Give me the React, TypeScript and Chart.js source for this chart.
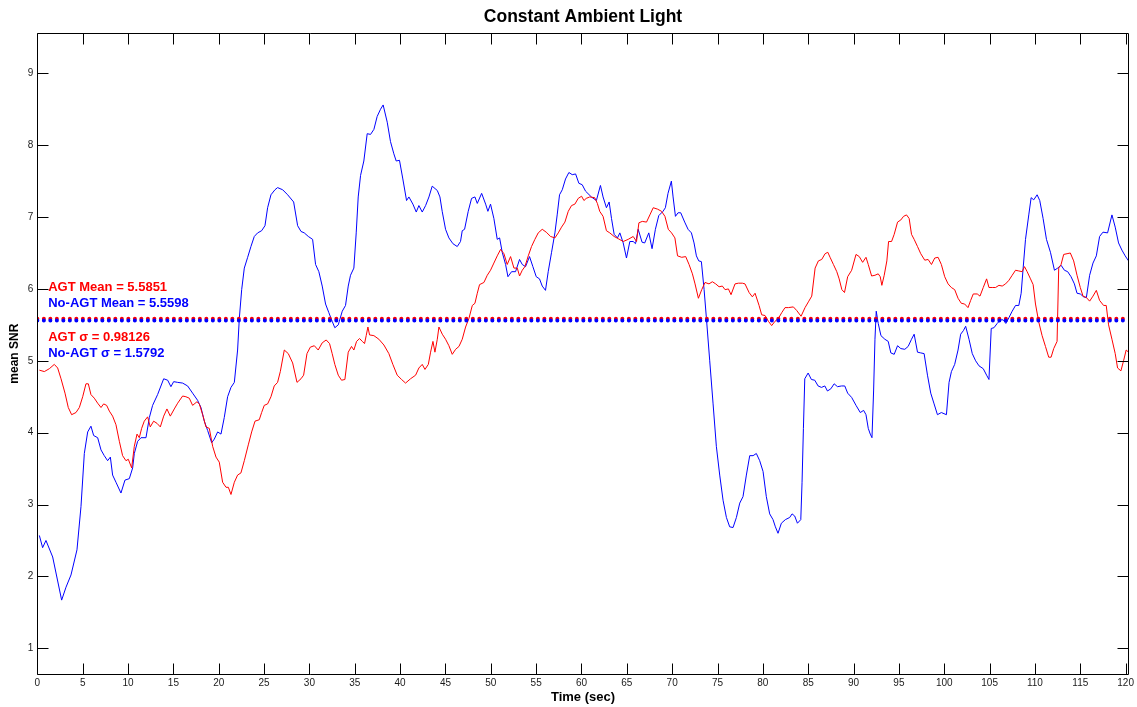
import { useEffect, useRef } from "react";
import { Chart, registerables } from "chart.js";

Chart.register(...registerables);

// No-AGT mean SNR trace (time in seconds, value)
const noAgtTime = [
  0.22, 0.58, 0.95, 1.69, 2.68, 3.16, 3.71, 4.37, 4.81, 5.18, 5.55, 5.91, 6.21, 6.65, 7.02, 7.38, 7.75, 8.05, 8.3, 8.67,
  9.22, 9.66, 10.14, 10.51, 10.69, 11.06, 11.43, 11.98, 12.35, 12.71, 13.26, 13.93, 14.37, 14.73, 15.03, 15.47, 16.02,
  16.57, 17.12, 17.67, 18.04, 18.41, 18.78, 19.22, 19.51, 19.88, 20.25, 20.61, 20.98, 21.35, 21.72, 22.08, 22.27, 22.53,
  22.82, 23.19, 23.55, 23.92, 24.29, 24.73, 25.1, 25.39, 25.76, 26.2, 26.49, 27.05, 27.6, 28.26, 28.7, 29.07, 29.43,
  29.88, 30.35, 30.68, 31.04, 31.41, 31.78, 32.14, 32.51, 32.8, 33.18, 33.62, 33.98, 34.28, 34.53, 34.9, 35.16, 35.38,
  35.64, 36.0, 36.37, 36.74, 37.11, 37.47, 37.84, 38.13, 38.58, 38.94, 39.31, 39.57, 39.93, 40.3, 40.71, 40.97, 41.41,
  41.78, 42.07, 42.44, 42.81, 43.18, 43.54, 44.1, 44.39, 44.64, 45.01, 45.38, 45.82, 46.3, 46.66, 46.85, 47.11, 47.51,
  47.88, 48.25, 48.51, 48.99, 49.43, 49.68, 49.97, 50.34, 50.71, 50.97, 51.26, 51.63, 51.89, 52.29, 52.73, 53.17, 53.47,
  53.83, 54.27, 54.64, 55.01, 55.37, 55.67, 56.03, 56.33, 56.7, 57.07, 57.32, 57.58, 57.88, 58.24, 58.61, 58.98, 59.35,
  59.71, 60.08, 60.45, 61.09, 61.64, 62.09, 62.38, 62.75, 63.05, 63.31, 63.6, 63.97, 64.23, 64.6, 64.96, 65.33, 65.7,
  65.96, 66.25, 66.68, 66.97, 67.42, 67.78, 68.15, 68.52, 68.99, 69.25, 69.54, 69.91, 70.1, 70.36, 70.65, 70.94, 71.38,
  71.75, 72.12, 72.41, 72.67, 72.93, 73.22, 73.52, 73.77, 74.14, 74.51, 74.87, 75.24, 75.61, 75.98, 76.34, 76.71, 77.08,
  77.45, 77.81, 78.18, 78.55, 78.92, 79.28, 79.65, 80.02, 80.38, 80.75, 81.12, 81.38, 81.67, 82.04, 82.48, 82.96, 83.22,
  83.51, 83.81, 84.18, 84.32, 84.47, 84.62, 84.99, 85.35, 85.72, 86.09, 86.46, 86.83, 87.12, 87.49, 87.86, 88.23, 88.67,
  89.03, 89.35, 89.79, 90.27, 90.74, 91.11, 91.37, 91.62, 91.84, 92.03, 92.21, 92.36, 92.5, 92.72, 93.02, 93.45, 93.82,
  94.11, 94.48, 94.85, 95.21, 95.65, 96.02, 96.39, 96.68, 97.05, 97.41, 97.78, 98.15, 98.51, 98.88, 99.25, 99.68, 100.24,
  100.53, 100.79, 101.15, 101.52, 101.81, 102.11, 102.36, 102.73, 103.09, 103.46, 103.83, 104.3, 104.67, 104.93, 105.18,
  105.48, 105.84, 106.21, 106.5, 106.79, 107.13, 107.49, 107.86, 108.22, 108.48, 108.7, 108.96, 109.32, 109.58, 109.87,
  110.24, 110.53, 110.9, 111.27, 111.71, 112.15, 112.51, 112.88, 113.25, 113.61, 113.98, 114.35, 114.64, 115.0, 115.37,
  115.67, 116.03, 116.4, 116.77, 117.13, 117.5, 118.01, 118.49, 118.85, 119.22, 119.59, 119.95, 120.32,
];
const noAgtSNR = [
  2.57, 2.4, 2.5, 2.27, 1.67, 1.85, 2.02, 2.37, 2.97, 3.71, 4.01, 4.09, 3.96, 3.93, 3.76, 3.68, 3.61, 3.66, 3.41, 3.31,
  3.16, 3.34, 3.36, 3.51, 3.71, 3.88, 3.93, 3.93, 4.21, 4.38, 4.53, 4.75, 4.73, 4.64, 4.71, 4.7, 4.69,
  4.65, 4.55, 4.45, 4.35, 4.16, 4.03, 3.86, 3.91, 4.01, 3.98, 4.21, 4.5, 4.63, 4.7, 5.15, 5.59, 5.99,
  6.29, 6.44, 6.59, 6.73, 6.78, 6.81, 6.88, 7.13, 7.31, 7.38, 7.41, 7.38, 7.31, 7.21, 6.88, 6.8, 6.78,
  6.73, 6.69, 6.34, 6.24, 6.04, 5.79, 5.67, 5.55, 5.46, 5.5, 5.69, 5.77, 6.04, 6.19, 6.29, 6.78, 7.28,
  7.58, 7.78, 8.16, 8.15, 8.22, 8.4, 8.5, 8.56, 8.32, 8.05, 7.88, 7.78, 7.79, 7.53, 7.23, 7.28, 7.18,
  7.07, 7.16, 7.07, 7.16, 7.28, 7.43, 7.37, 7.28, 7.08, 6.83, 6.71, 6.63, 6.59, 6.66, 6.81, 6.83, 7.08,
  7.26, 7.28, 7.19, 7.33, 7.18, 7.08, 7.18, 6.98, 6.69, 6.71, 6.51, 6.34, 6.17, 6.24, 6.24, 6.41, 6.34,
  6.31, 6.45, 6.31, 6.17, 6.14, 6.04, 5.98, 6.24, 6.51, 6.78, 7.03, 7.31, 7.38, 7.53, 7.62, 7.59, 7.6,
  7.47, 7.45, 7.36, 7.28, 7.23, 7.44, 7.28, 7.13, 7.21, 6.98, 6.76, 6.71, 6.78, 6.64, 6.43, 6.66, 6.66,
  6.63, 6.83, 6.65, 6.64, 6.78, 6.56, 6.83, 7.02, 7.08, 7.13, 7.33, 7.5, 7.28, 7.01, 7.06, 7.06, 6.93,
  6.83, 6.78, 6.64, 6.46, 6.39, 6.38, 5.99, 5.6, 5.0, 4.4, 3.81, 3.41, 3.06, 2.82, 2.69, 2.68, 2.82,
  3.02, 3.11, 3.41, 3.68, 3.68, 3.71, 3.61, 3.46, 3.11, 2.87, 2.79, 2.69, 2.6, 2.74, 2.79, 2.82, 2.87,
  2.84, 2.74, 2.79, 3.31, 4.06, 4.75, 4.83, 4.74, 4.73, 4.65, 4.63, 4.65, 4.58, 4.61, 4.68, 4.64, 4.65,
  4.65, 4.55, 4.49, 4.38, 4.28, 4.31, 4.25, 4.06, 3.98, 3.93, 4.58, 5.3, 5.69, 5.52, 5.35, 5.3, 5.27,
  5.11, 5.09, 5.21, 5.17, 5.16, 5.2, 5.3, 5.37, 5.12, 5.11, 5.1, 4.8, 4.55, 4.4, 4.25, 4.28, 4.25,
  4.7, 4.85, 4.95, 5.15, 5.37, 5.42, 5.48, 5.3, 5.1, 5.0, 4.93, 4.89, 4.8, 4.74, 5.45,
  5.46, 5.52, 5.57, 5.57, 5.52, 5.6, 5.69, 5.77, 5.77, 5.94, 6.29, 6.69, 7.03, 7.27, 7.24,
  7.31, 7.23, 6.98, 6.69, 6.51, 6.26, 6.29, 6.33, 6.26, 6.24, 6.17, 6.07, 5.94, 5.93, 5.89,
  5.88, 6.19, 6.36, 6.46, 6.73, 6.79, 6.78, 7.03, 6.86, 6.64, 6.54, 6.46, 6.39,
];

// AGT mean SNR trace (time in seconds, value)
const agtTime = [
  0.22, 0.77, 1.32, 1.87, 2.24, 2.61, 3.05, 3.41, 3.78, 4.26, 4.63, 5.0, 5.36, 5.62, 5.91, 6.28, 6.65, 7.02, 7.31, 7.64,
  7.94, 8.3, 8.67, 9.04, 9.4, 9.77, 10.03, 10.4, 10.69, 10.99, 11.24, 11.5, 11.79, 12.16, 12.45, 12.82, 13.19, 13.56,
  13.93, 14.29, 14.66, 15.1, 15.47, 16.02, 16.38, 16.75, 17.12, 17.6, 17.86, 18.23, 18.59, 18.96, 19.33, 19.7, 20.06,
  20.43, 20.8, 21.06, 21.35, 21.72, 22.08, 22.45, 22.82, 23.26, 23.63, 24.0, 24.47, 24.73, 25.02, 25.39, 25.76, 26.12,
  26.49, 26.79, 27.23, 27.67, 28.15, 28.63, 29.07, 29.36, 29.73, 30.1, 30.54, 30.97, 31.41, 31.85, 32.22, 32.51, 32.8,
  33.18, 33.54, 33.91, 34.28, 34.64, 34.9, 35.2, 35.53, 35.83, 36.08, 36.26, 36.45, 36.63, 37.11, 37.66, 38.21, 38.76,
  39.2, 39.68, 40.16, 40.6, 41.15, 41.71, 42.07, 42.44, 42.74, 43.11, 43.36, 43.62, 43.84, 44.1, 44.28, 44.65, 45.01,
  45.38, 45.75, 46.12, 46.49, 46.85, 47.22, 47.59, 47.96, 48.25, 48.51, 48.76, 49.24, 49.61, 49.97, 50.34, 50.71, 51.08,
  51.45, 51.81, 52.18, 52.55, 52.92, 53.17, 53.47, 53.76, 54.13, 54.49, 54.86, 55.23, 55.67, 56.11, 56.59, 57.07, 57.44,
  57.8, 58.17, 58.54, 58.9, 59.27, 59.64, 60.01, 60.27, 60.52, 60.91, 61.46, 61.75, 62.01, 62.38, 62.75, 63.12, 63.6,
  64.04, 64.6, 65.15, 65.7, 66.07, 66.33, 66.7, 67.17, 67.54, 67.91, 68.39, 68.83, 69.2, 69.57, 69.93, 70.3, 70.59,
  71.05, 71.49, 71.86, 72.23, 72.52, 72.89, 73.26, 73.62, 74.06, 74.43, 74.8, 75.17, 75.53, 75.83, 76.2, 76.49, 76.93,
  77.3, 77.74, 78.03, 78.48, 78.84, 79.14, 79.58, 79.87, 80.24, 80.61, 80.97, 81.34, 81.71, 82.08, 82.44, 82.81, 83.36,
  83.73, 84.21, 84.65, 85.02, 85.39, 85.76, 86.12, 86.49, 86.86, 87.16, 87.41, 87.78, 88.15, 88.41, 88.71, 89.0, 89.35,
  89.79, 90.27, 90.63, 91.0, 91.37, 91.62, 91.99, 92.36, 92.72, 92.94, 93.12, 93.38, 93.67, 93.86, 94.19, 94.48, 94.85,
  95.21, 95.51, 95.84, 96.13, 96.39, 96.68, 97.05, 97.41, 97.85, 98.22, 98.59, 98.95, 99.32, 99.68, 100.05, 100.42,
  100.78, 101.15, 101.52, 101.88, 102.25, 102.62, 102.91, 103.2, 103.64, 103.94, 104.3, 104.67, 104.93, 105.29, 105.66,
  106.03, 106.39, 106.76, 107.13, 107.49, 107.86, 108.22, 108.59, 108.85, 109.14, 109.51, 109.8, 110.06, 110.42, 110.79,
  111.16, 111.52, 111.78, 112.07, 112.44, 112.62, 112.88, 113.17, 113.54, 113.9, 114.27, 114.64, 115.0, 115.3, 115.67,
  116.03, 116.4, 116.77, 117.13, 117.57, 117.86, 118.12, 118.49, 118.85, 119.11, 119.48, 119.77, 120.06, 120.32,
];
const agtSNR = [
  4.87, 4.85, 4.89, 4.95, 4.9, 4.75, 4.55, 4.35, 4.25, 4.28, 4.35, 4.5, 4.68, 4.68, 4.53, 4.48, 4.41, 4.35, 4.4, 4.38,
  4.3, 4.23, 4.11, 3.88, 3.68, 3.61, 3.63, 3.51, 3.81, 3.98, 3.93, 4.06, 4.16, 4.22, 4.08, 4.16, 4.13, 4.08,
  4.23, 4.33, 4.23, 4.33, 4.41, 4.51, 4.5, 4.48, 4.38, 4.43, 4.4, 4.25, 4.08, 4.06, 3.81, 3.66, 3.59,
  3.31, 3.24, 3.24, 3.14, 3.31, 3.41, 3.44, 3.61, 3.83, 4.01, 4.16, 4.18, 4.28, 4.38, 4.4, 4.5, 4.65,
  4.7, 4.85, 5.15, 5.1, 4.97, 4.7, 4.75, 4.8, 5.1, 5.19, 5.21, 5.15, 5.25, 5.29, 5.24, 5.1, 4.95,
  4.8, 4.73, 4.74, 5.12, 5.2, 5.15, 5.27, 5.31, 5.27, 5.24, 5.35, 5.47, 5.36, 5.35, 5.3, 5.22, 5.1,
  4.95, 4.8, 4.74, 4.69, 4.75, 4.8, 4.9, 4.95, 4.88, 4.95, 5.12, 5.27, 5.12, 5.3, 5.47, 5.37, 5.3,
  5.21, 5.09, 5.16, 5.2, 5.3, 5.47, 5.59, 5.77, 5.8, 5.94, 6.06, 6.09, 6.19, 6.26, 6.36, 6.46, 6.55,
  6.49, 6.34, 6.45, 6.29, 6.29, 6.18, 6.26, 6.31, 6.46, 6.59, 6.69, 6.78, 6.83, 6.79, 6.73, 6.71, 6.78,
  6.86, 6.93, 7.08, 7.16, 7.18, 7.26, 7.29, 7.23, 7.26, 7.28, 7.27, 7.19, 7.08, 7.01, 6.81, 6.78, 6.73,
  6.7, 6.66, 6.69, 6.73, 6.66, 6.92, 6.94, 6.93, 7.03, 7.13, 7.11, 7.08, 7.01, 6.83, 6.78, 6.71, 6.46,
  6.44, 6.45, 6.34, 6.21, 6.07, 5.87, 5.99, 6.09, 6.07, 6.1, 6.07, 6.03, 6.04, 5.99, 6.0, 5.92, 6.07,
  6.08, 6.08, 6.07, 5.95, 5.89, 5.94, 5.77, 5.64, 5.63, 5.55, 5.49, 5.55, 5.59, 5.67, 5.74, 5.74, 5.75,
  5.7, 5.62, 5.74, 5.82, 5.9, 6.29, 6.39, 6.41, 6.49, 6.51, 6.44, 6.34, 6.24, 6.14, 5.99, 5.95, 6.17,
  6.26, 6.48, 6.45, 6.37, 6.44, 6.34, 6.18, 6.19, 6.21, 6.17, 6.05, 6.19, 6.39, 6.66, 6.66, 6.76, 6.93,
  6.96, 7.01, 7.03, 6.98, 6.76, 6.69, 6.59, 6.49, 6.4, 6.41, 6.34, 6.43, 6.44, 6.34, 6.17, 6.07,
  6.02, 5.99, 5.87, 5.8, 5.79, 5.74, 5.84, 5.93, 5.93, 5.9, 6.02, 6.14, 6.02, 6.02, 6.02,
  6.05, 6.04, 6.07, 6.12, 6.19, 6.26, 6.25, 6.24, 6.31, 6.24, 6.14, 6.06, 5.79, 5.54, 5.35,
  5.2, 5.05, 5.05, 5.17, 5.27, 6.29, 6.34, 6.48, 6.49, 6.5, 6.39, 6.19, 6.02, 5.9, 5.88,
  5.83, 5.9, 5.98, 5.84, 5.77, 5.77, 5.5, 5.3, 5.1, 4.9, 4.86, 5.0, 5.15, 5.12,
];

// Summary statistics
const agtMean = 5.5851;
const noAgtMean = 5.5598;
const agtSigma = 0.98126;
const noAgtSigma = 1.5792;

// Axes
const xTicks = [0, 5, 10, 15, 20, 25, 30, 35, 40, 45, 50, 55, 60, 65, 70, 75, 80, 85, 90, 95, 100, 105, 110, 115, 120];
const yTicks = [1, 2, 3, 4, 5, 6, 7, 8, 9];
const xLimits = [0, 120.33];
const yLimits = [0.642, 9.557];

const RED = "#ff0000";
const BLUE = "#0000ff";
const FONT = '"Liberation Sans", Arial, Helvetica, sans-serif';

const toPoints = (xs: number[], ys: number[]) => xs.map((x, i) => ({ x, y: ys[i] }));

// Statistic labels, anchored in data coordinates near the left edge
const statLabels = [
  { text: `AGT Mean = ${agtMean}`, color: RED, x: 1.2, y: 5.975 },
  { text: `No-AGT Mean = ${noAgtMean}`, color: BLUE, x: 1.2, y: 5.744 },
  { text: `AGT \u03c3 = ${agtSigma}`, color: RED, x: 1.2, y: 5.28 },
  { text: `No-AGT \u03c3 = ${noAgtSigma}`, color: BLUE, x: 1.2, y: 5.049 },
];

// Box frame with inward tick marks on all four sides, plus the statistic labels
const boxPlugin = {
  id: "matlabBox",
  afterDatasetsDraw(chart: any) {
    const { ctx, chartArea, scales } = chart;
    const L = Math.floor(chartArea.left) + 0.5;
    const R = Math.floor(chartArea.right) + 0.5;
    const T = Math.floor(chartArea.top) + 0.5;
    const B = Math.floor(chartArea.bottom) + 0.5;
    const len = 11;
    ctx.save();
    ctx.strokeStyle = "#000";
    ctx.lineWidth = 1;
    ctx.beginPath();
    ctx.rect(L, T, R - L, B - T);
    for (const v of xTicks) {
      const px = Math.round(scales.x.getPixelForValue(v)) + 0.5;
      ctx.moveTo(px, B);
      ctx.lineTo(px, B - len);
      ctx.moveTo(px, T);
      ctx.lineTo(px, T + len);
    }
    for (const v of yTicks) {
      const py = Math.round(scales.y.getPixelForValue(v)) + 0.5;
      ctx.moveTo(L, py);
      ctx.lineTo(L + len, py);
      ctx.moveTo(R, py);
      ctx.lineTo(R - len, py);
    }
    ctx.stroke();

    ctx.font = `bold 13px ${FONT}`;
    ctx.textAlign = "left";
    ctx.textBaseline = "alphabetic";
    for (const lab of statLabels) {
      ctx.fillStyle = lab.color;
      ctx.fillText(lab.text, scales.x.getPixelForValue(lab.x), scales.y.getPixelForValue(lab.y));
    }
    ctx.restore();
  },
};

export default function App() {
  const ref = useRef<HTMLCanvasElement | null>(null);

  useEffect(() => {
    if (!ref.current) return;
    Chart.defaults.font.family = FONT;
    const chart = new Chart(ref.current, {
      type: "line",
      data: {
        datasets: [
          {
            label: "No-AGT mean",
            data: [
              { x: xLimits[0], y: noAgtMean },
              { x: xLimits[1], y: noAgtMean },
            ],
            borderColor: BLUE,
            borderWidth: 4,
            borderDash: [0, 6.5],
            borderCapStyle: "round",
            pointRadius: 0,
            tension: 0,
          },
          {
            label: "AGT mean",
            data: [
              { x: xLimits[0], y: agtMean },
              { x: xLimits[1], y: agtMean },
            ],
            borderColor: RED,
            borderWidth: 4,
            borderDash: [0, 6.5],
            borderCapStyle: "round",
            pointRadius: 0,
            tension: 0,
          },
          {
            label: "AGT",
            data: toPoints(agtTime, agtSNR),
            borderColor: RED,
            borderWidth: 1,
            pointRadius: 0,
            tension: 0,
          },
          {
            label: "No-AGT",
            data: toPoints(noAgtTime, noAgtSNR),
            borderColor: BLUE,
            borderWidth: 1,
            pointRadius: 0,
            tension: 0,
          },
        ],
      },
      options: {
        responsive: false,
        animation: false,
        devicePixelRatio: 1,
        layout: { padding: { left: 0, right: 5.3, top: 0, bottom: 0 } },
        plugins: {
          legend: { display: false },
          tooltip: { enabled: false },
          title: {
            display: true,
            text: "Constant Ambient Light",
            color: "#000",
            fullSize: false,
            font: { size: 17.5, weight: "bold", family: FONT },
            padding: { top: 7, bottom: 5.3 },
          },
        },
        scales: {
          x: {
            type: "linear",
            min: xLimits[0],
            max: xLimits[1],
            grid: { display: false, drawTicks: false, tickLength: 0 },
            border: { display: false },
            ticks: {
              autoSkip: false,
              maxRotation: 0,
              padding: 3,
              color: "#1a1a1a",
              font: { size: 10, family: FONT },
            },
            afterBuildTicks: (s: any) => {
              s.ticks = xTicks.map((v) => ({ value: v }));
            },
            afterFit: (s: any) => {
              s.height = 33;
            },
            title: {
              display: true,
              text: "Time (sec)",
              color: "#000",
              font: { size: 13, weight: "bold", family: FONT },
              padding: { top: 0, bottom: 1.5 },
            },
          },
          y: {
            type: "linear",
            min: yLimits[0],
            max: yLimits[1],
            grid: { display: false, drawTicks: false, tickLength: 0 },
            border: { display: false },
            ticks: {
              padding: 4,
              color: "#1a1a1a",
              font: { size: 10, family: FONT },
            },
            afterBuildTicks: (s: any) => {
              s.ticks = yTicks.map((v) => ({ value: v }));
            },
            afterFit: (s: any) => {
              s.width = 37.35;
            },
            title: {
              display: true,
              text: "mean SNR",
              color: "#000",
              font: { size: 12, weight: "bold", family: FONT },
              padding: { top: 7.5, bottom: 0 },
            },
          },
        },
      },
      plugins: [boxPlugin],
    } as any);
    return () => chart.destroy();
  }, []);

  return (
    <div style={{ position: "fixed", left: 0, top: 0, width: 1137, height: 707, background: "#fff" }}>
      <canvas ref={ref} width={1137} height={707} style={{ display: "block" }} />
    </div>
  );
}
